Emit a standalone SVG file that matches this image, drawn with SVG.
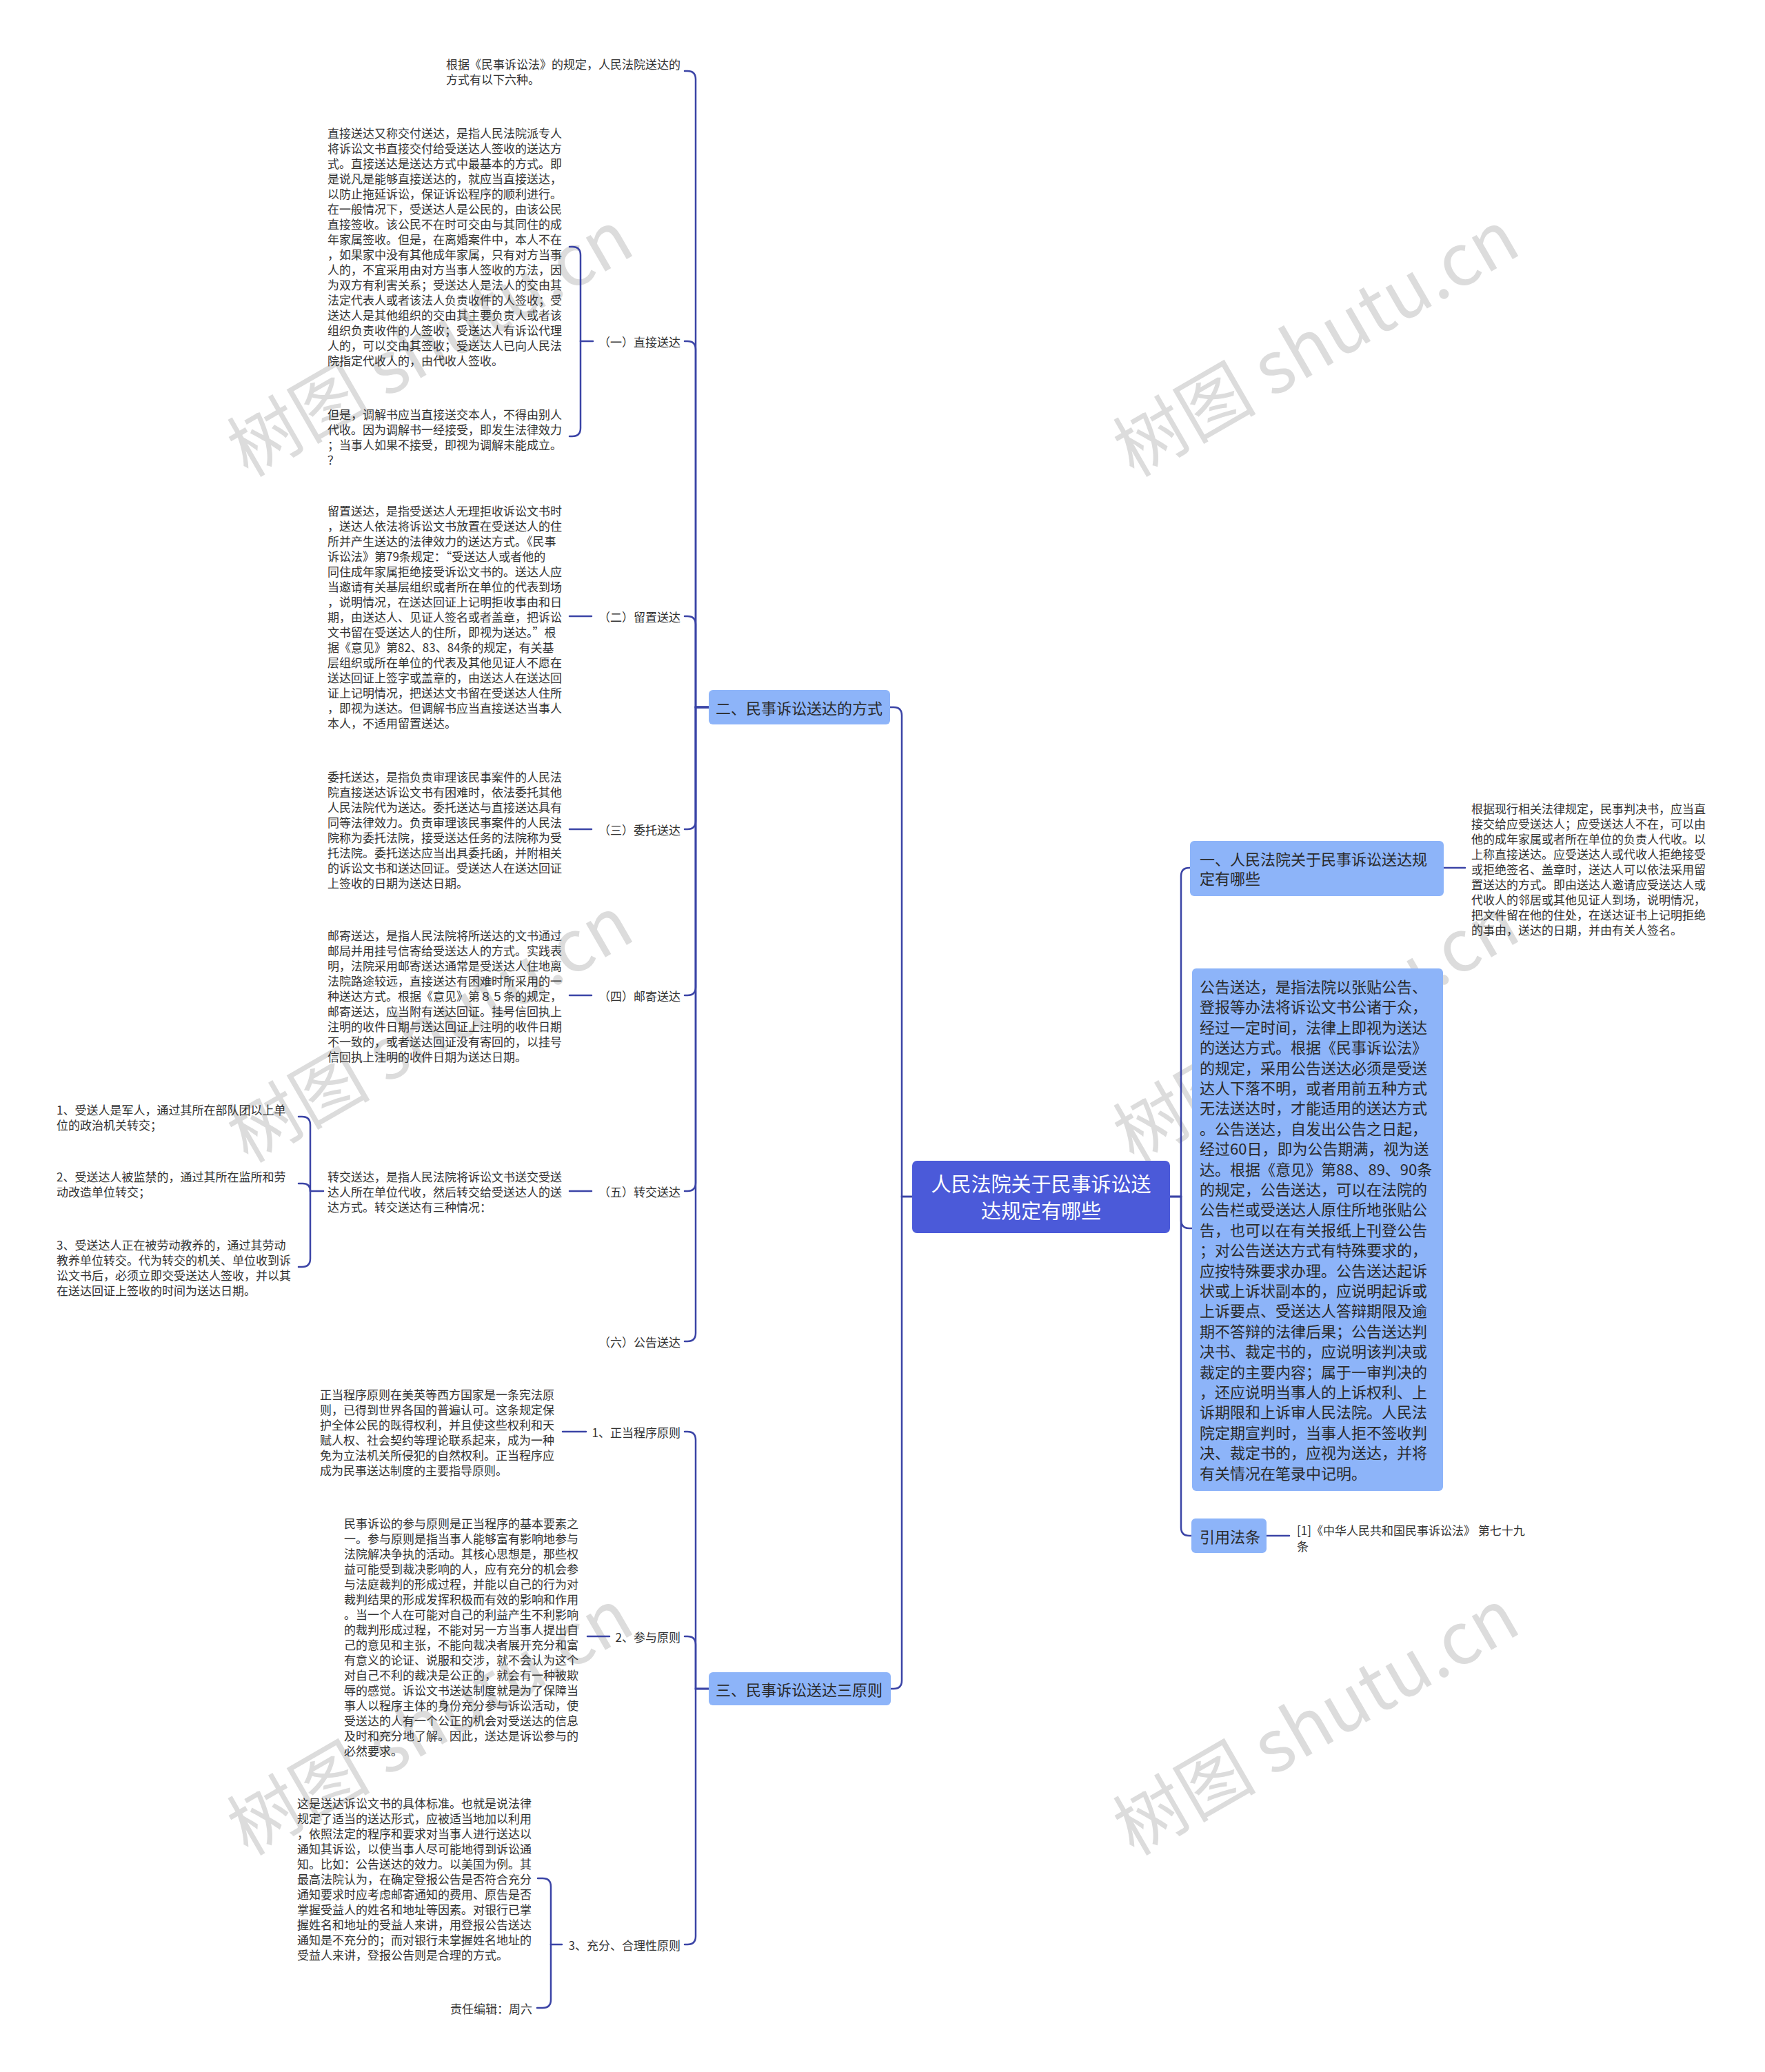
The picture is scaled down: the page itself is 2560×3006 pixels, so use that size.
<svg xmlns="http://www.w3.org/2000/svg" width="2560" height="3006" viewBox="0 0 2560 3006">
<style>
.t{font-family:"Noto Sans CJK SC","Noto Sans",sans-serif;font-size:17px;fill:#333;dominant-baseline:central}
.lb{text-anchor:end}
.c{fill:none;stroke:#3b44a6;stroke-width:2.5;stroke-linecap:round}
.bx{fill:#8db4f9}
.bt{font-size:22px;fill:#2a2a2a}
.root{fill:#4b5ad9}
.rt{font-size:29px;fill:#fff;text-anchor:middle}
.wm{font-family:"Noto Sans CJK SC","Noto Sans",sans-serif;font-size:104px;fill:#dcdcdc}
</style>
<rect width="2560" height="3006" fill="#fff"/>
<g id="watermarks">
<text class="wm" transform="translate(642,530) rotate(-30)" text-anchor="middle">树图 shutu.cn</text>
<text class="wm" transform="translate(1927,530) rotate(-30)" text-anchor="middle">树图 shutu.cn</text>
<text class="wm" transform="translate(642,1525) rotate(-30)" text-anchor="middle">树图 shutu.cn</text>
<text class="wm" transform="translate(1927,1525) rotate(-30)" text-anchor="middle">树图 shutu.cn</text>
<text class="wm" transform="translate(642,2530) rotate(-30)" text-anchor="middle">树图 shutu.cn</text>
<text class="wm" transform="translate(1927,2530) rotate(-30)" text-anchor="middle">树图 shutu.cn</text>
</g>
<g id="connectors">
<path class="c" d="M1323,1736 H1308 V1038 Q1308,1026 1296,1026 H1291"/>
<path class="c" d="M1323,1736 H1308 V2438 Q1308,2450 1296,2450 H1292"/>
<path class="c" d="M1697,1736 H1713 V1271 Q1713,1259 1725,1259 H1726"/>
<path class="c" d="M1697,1736 H1713 V1770 Q1713,1782 1725,1782 H1729"/>
<path class="c" d="M1697,1736 H1713 V2216 Q1713,2228 1725,2228 H1728"/>
<path class="c" d="M2094,1259 H2125"/>
<path class="c" d="M1837,2228 H1870"/>
<path class="c" d="M1028,1026 H1009 V115 Q1009,103 997,103 H993"/>
<path class="c" d="M1028,1026 H1009 V507 Q1009,495 997,495 H993"/>
<path class="c" d="M1028,1026 H1009 V906 Q1009,894 997,894 H993"/>
<path class="c" d="M1028,1026 H1009 V1191 Q1009,1203 997,1203 H993"/>
<path class="c" d="M1028,1026 H1009 V1432 Q1009,1444 997,1444 H993"/>
<path class="c" d="M1028,1026 H1009 V1716 Q1009,1728 997,1728 H993"/>
<path class="c" d="M1028,1026 H1009 V1934 Q1009,1946 997,1946 H993"/>
<path class="c" d="M860,495 H842"/>
<path class="c" d="M842,495 V370 Q842,358 830,358 H826"/>
<path class="c" d="M842,495 V621 Q842,633 830,633 H826"/>
<path class="c" d="M858,894 H826"/>
<path class="c" d="M858,1203 H826"/>
<path class="c" d="M858,1444 H826"/>
<path class="c" d="M858,1728 H826"/>
<path class="c" d="M469,1728 H450"/>
<path class="c" d="M450,1728 V1632 Q450,1620 438,1620 H433"/>
<path class="c" d="M450,1728 Q450,1717 439,1717 H433"/>
<path class="c" d="M450,1728 V1826 Q450,1838 438,1838 H433"/>
<path class="c" d="M1028,2450 H1009 V2089 Q1009,2077 997,2077 H993"/>
<path class="c" d="M1028,2450 H1009 V2386 Q1009,2374 997,2374 H993"/>
<path class="c" d="M1028,2450 H1009 V2809 Q1009,2821 997,2821 H993"/>
<path class="c" d="M850,2077 H816"/>
<path class="c" d="M884,2374 H852"/>
<path class="c" d="M815,2821 H799"/>
<path class="c" d="M799,2821 V2737 Q799,2725 787,2725 H780"/>
<path class="c" d="M799,2821 V2901 Q799,2913 787,2913 H779"/>
</g>
<g id="root">
<rect class="root" x="1323" y="1684" width="374" height="105" rx="7"/>
<text class="t rt"><tspan x="1510" y="1716">人民法院关于民事诉讼送</tspan><tspan x="1510" y="1755">达规定有哪些</tspan></text>
</g>
<g id="n-er">
<rect class="bx" x="1028" y="1001" width="263" height="50" rx="6"/>
<text class="t bt" x="1038" y="1026">二、民事诉讼送达的方式</text>
</g>
<g id="n-san">
<rect class="bx" x="1028" y="2426" width="264" height="48" rx="6"/>
<text class="t bt" x="1038" y="2450">三、民事诉讼送达三原则</text>
</g>
<g id="n-yi">
<rect class="bx" x="1726" y="1220" width="368" height="80" rx="6"/>
<text class="t bt"><tspan x="1740" y="1245">一、人民法院关于民事诉讼送达规</tspan><tspan x="1740" y="1273">定有哪些</tspan></text>
</g>
<g id="n-yi-text">
<text class="t"><tspan x="2134" y="1172">根据现行相关法律规定，民事判决书，应当直</tspan><tspan x="2134" y="1194">接交给应受送达人；应受送达人不在，可以由</tspan><tspan x="2134" y="1216">他的成年家属或者所在单位的负责人代收。以</tspan><tspan x="2134" y="1238">上称直接送达。应受送达人或代收人拒绝接受</tspan><tspan x="2134" y="1260">或拒绝签名、盖章时，送达人可以依法采用留</tspan><tspan x="2134" y="1282">置送达的方式。即由送达人邀请应受送达人或</tspan><tspan x="2134" y="1304">代收人的邻居或其他见证人到场，说明情况，</tspan><tspan x="2134" y="1326">把文件留在他的住处，在送达证书上记明拒绝</tspan><tspan x="2134" y="1348">的事由，送达的日期，并由有关人签名。</tspan></text>
</g>
<g id="n-gonggao">
<rect class="bx" x="1729" y="1405" width="364" height="758" rx="6"/>
<text class="t bt"><tspan x="1740" y="1430">公告送达，是指法院以张贴公告、</tspan><tspan x="1740" y="1459.4">登报等办法将诉讼文书公诸于众，</tspan><tspan x="1740" y="1488.8">经过一定时间，法律上即视为送达</tspan><tspan x="1740" y="1518.2">的送达方式。根据《民事诉讼法》</tspan><tspan x="1740" y="1547.6">的规定，采用公告送达必须是受送</tspan><tspan x="1740" y="1577">达人下落不明，或者用前五种方式</tspan><tspan x="1740" y="1606.4">无法送达时，才能适用的送达方式</tspan><tspan x="1740" y="1635.8">。公告送达，自发出公告之日起，</tspan><tspan x="1740" y="1665.2">经过60日，即为公告期满，视为送</tspan><tspan x="1740" y="1694.6">达。根据《意见》第88、89、90条</tspan><tspan x="1740" y="1724">的规定，公告送达，可以在法院的</tspan><tspan x="1740" y="1753.4">公告栏或受送达人原住所地张贴公</tspan><tspan x="1740" y="1782.8">告，也可以在有关报纸上刊登公告</tspan><tspan x="1740" y="1812.2">；对公告送达方式有特殊要求的，</tspan><tspan x="1740" y="1841.6">应按特殊要求办理。公告送达起诉</tspan><tspan x="1740" y="1871">状或上诉状副本的，应说明起诉或</tspan><tspan x="1740" y="1900.4">上诉要点、受送达人答辩期限及逾</tspan><tspan x="1740" y="1929.8">期不答辩的法律后果；公告送达判</tspan><tspan x="1740" y="1959.2">决书、裁定书的，应说明该判决或</tspan><tspan x="1740" y="1988.6">裁定的主要内容；属于一审判决的</tspan><tspan x="1740" y="2018">，还应说明当事人的上诉权利、上</tspan><tspan x="1740" y="2047.4">诉期限和上诉审人民法院。人民法</tspan><tspan x="1740" y="2076.8">院定期宣判时，当事人拒不签收判</tspan><tspan x="1740" y="2106.2">决、裁定书的，应视为送达，并将</tspan><tspan x="1740" y="2135.6">有关情况在笔录中记明。</tspan></text>
</g>
<g id="n-yinyong">
<rect class="bx" x="1728" y="2203" width="109" height="50" rx="6"/>
<text class="t bt" x="1740" y="2228">引用法条</text>
</g>
<g id="n-yinyong-text">
<text class="t"><tspan x="1881" y="2219">[1]《中华人民共和国民事诉讼法》 第七十九</tspan><tspan x="1881" y="2242">条</tspan></text>
</g>
<g id="n-intro">
<text class="t"><tspan x="647" y="92">根据《民事诉讼法》的规定，人民法院送达的</tspan><tspan x="647" y="114">方式有以下六种。</tspan></text>
</g>
<g id="n-l1"><text class="t lb" x="987" y="495">（一）直接送达</text></g>
<g id="n-l2"><text class="t lb" x="987" y="894">（二）留置送达</text></g>
<g id="n-l3"><text class="t lb" x="987" y="1203">（三）委托送达</text></g>
<g id="n-l4"><text class="t lb" x="987" y="1444">（四）邮寄送达</text></g>
<g id="n-l5"><text class="t lb" x="987" y="1728">（五）转交送达</text></g>
<g id="n-l6"><text class="t lb" x="987" y="1946">（六）公告送达</text></g>
<g id="n-p1"><text class="t lb" x="987" y="2077">1、正当程序原则</text></g>
<g id="n-p2"><text class="t lb" x="987" y="2374">2、参与原则</text></g>
<g id="n-p3"><text class="t lb" x="987" y="2821">3、充分、合理性原则</text></g>
<g id="n-d1a">
<text class="t"><tspan x="475" y="192">直接送达又称交付送达，是指人民法院派专人</tspan><tspan x="475" y="214">将诉讼文书直接交付给受送达人签收的送达方</tspan><tspan x="475" y="236">式。直接送达是送达方式中最基本的方式。即</tspan><tspan x="475" y="258">是说凡是能够直接送达的，就应当直接送达，</tspan><tspan x="475" y="280">以防止拖延诉讼，保证诉讼程序的顺利进行。</tspan><tspan x="475" y="302">在一般情况下，受送达人是公民的，由该公民</tspan><tspan x="475" y="324">直接签收。该公民不在时可交由与其同住的成</tspan><tspan x="475" y="346">年家属签收。但是，在离婚案件中，本人不在</tspan><tspan x="475" y="368">，如果家中没有其他成年家属，只有对方当事</tspan><tspan x="475" y="390">人的，不宜采用由对方当事人签收的方法，因</tspan><tspan x="475" y="412">为双方有利害关系；受送达人是法人的交由其</tspan><tspan x="475" y="434">法定代表人或者该法人负责收件的人签收；受</tspan><tspan x="475" y="456">送达人是其他组织的交由其主要负责人或者该</tspan><tspan x="475" y="478">组织负责收件的人签收；受送达人有诉讼代理</tspan><tspan x="475" y="500">人的，可以交由其签收；受送达人已向人民法</tspan><tspan x="475" y="522">院指定代收人的，由代收人签收。</tspan></text>
</g>
<g id="n-d1b">
<text class="t"><tspan x="475" y="600">但是，调解书应当直接送交本人，不得由别人</tspan><tspan x="475" y="622">代收。因为调解书一经接受，即发生法律效力</tspan><tspan x="475" y="644">；当事人如果不接受，即视为调解未能成立。</tspan><tspan x="475" y="666">？</tspan></text>
</g>
<g id="n-d2">
<text class="t"><tspan x="475" y="740">留置送达，是指受送达人无理拒收诉讼文书时</tspan><tspan x="475" y="762">，送达人依法将诉讼文书放置在受送达人的住</tspan><tspan x="475" y="784">所并产生送达的法律效力的送达方式。《民事</tspan><tspan x="475" y="806">诉讼法》第79条规定：“受送达人或者他的</tspan><tspan x="475" y="828">同住成年家属拒绝接受诉讼文书的。送达人应</tspan><tspan x="475" y="850">当邀请有关基层组织或者所在单位的代表到场</tspan><tspan x="475" y="872">，说明情况，在送达回证上记明拒收事由和日</tspan><tspan x="475" y="894">期，由送达人、见证人签名或者盖章，把诉讼</tspan><tspan x="475" y="916">文书留在受送达人的住所，即视为送达。”根</tspan><tspan x="475" y="938">据《意见》第82、83、84条的规定，有关基</tspan><tspan x="475" y="960">层组织或所在单位的代表及其他见证人不愿在</tspan><tspan x="475" y="982">送达回证上签字或盖章的，由送达人在送达回</tspan><tspan x="475" y="1004">证上记明情况，把送达文书留在受送达人住所</tspan><tspan x="475" y="1026">，即视为送达。但调解书应当直接送达当事人</tspan><tspan x="475" y="1048">本人，不适用留置送达。</tspan></text>
</g>
<g id="n-d3">
<text class="t"><tspan x="475" y="1126">委托送达，是指负责审理该民事案件的人民法</tspan><tspan x="475" y="1148">院直接送达诉讼文书有困难时，依法委托其他</tspan><tspan x="475" y="1170">人民法院代为送达。委托送达与直接送达具有</tspan><tspan x="475" y="1192">同等法律效力。负责审理该民事案件的人民法</tspan><tspan x="475" y="1214">院称为委托法院，接受送达任务的法院称为受</tspan><tspan x="475" y="1236">托法院。委托送达应当出具委托函，并附相关</tspan><tspan x="475" y="1258">的诉讼文书和送达回证。受送达人在送达回证</tspan><tspan x="475" y="1280">上签收的日期为送达日期。</tspan></text>
</g>
<g id="n-d4">
<text class="t"><tspan x="475" y="1356">邮寄送达，是指人民法院将所送达的文书通过</tspan><tspan x="475" y="1378">邮局并用挂号信寄给受送达人的方式。实践表</tspan><tspan x="475" y="1400">明，法院采用邮寄送达通常是受送达人住地离</tspan><tspan x="475" y="1422">法院路途较远，直接送达有困难时所采用的一</tspan><tspan x="475" y="1444">种送达方式。根据《意见》第８５条的规定，</tspan><tspan x="475" y="1466">邮寄送达，应当附有送达回证。挂号信回执上</tspan><tspan x="475" y="1488">注明的收件日期与送达回证上注明的收件日期</tspan><tspan x="475" y="1510">不一致的，或者送达回证没有寄回的，以挂号</tspan><tspan x="475" y="1532">信回执上注明的收件日期为送达日期。</tspan></text>
</g>
<g id="n-d5">
<text class="t"><tspan x="475" y="1706">转交送达，是指人民法院将诉讼文书送交受送</tspan><tspan x="475" y="1728">达人所在单位代收，然后转交给受送达人的送</tspan><tspan x="475" y="1750">达方式。转交送达有三种情况：</tspan></text>
</g>
<g id="n-d5-1">
<text class="t"><tspan x="82" y="1609">1、受送人是军人，通过其所在部队团以上单</tspan><tspan x="82" y="1631">位的政治机关转交；</tspan></text>
</g>
<g id="n-d5-2">
<text class="t"><tspan x="82" y="1706">2、受送达人被监禁的，通过其所在监所和劳</tspan><tspan x="82" y="1728">动改造单位转交；</tspan></text>
</g>
<g id="n-d5-3">
<text class="t"><tspan x="82" y="1805">3、受送达人正在被劳动教养的，通过其劳动</tspan><tspan x="82" y="1827">教养单位转交。代为转交的机关、单位收到诉</tspan><tspan x="82" y="1849">讼文书后，必须立即交受送达人签收，并以其</tspan><tspan x="82" y="1871">在送达回证上签收的时间为送达日期。</tspan></text>
</g>
<g id="n-p1d">
<text class="t"><tspan x="464" y="2022">正当程序原则在美英等西方国家是一条宪法原</tspan><tspan x="464" y="2044">则，已得到世界各国的普遍认可。这条规定保</tspan><tspan x="464" y="2066">护全体公民的既得权利，并且使这些权利和天</tspan><tspan x="464" y="2088">赋人权、社会契约等理论联系起来，成为一种</tspan><tspan x="464" y="2110">免为立法机关所侵犯的自然权利。正当程序应</tspan><tspan x="464" y="2132">成为民事送达制度的主要指导原则。</tspan></text>
</g>
<g id="n-p2d">
<text class="t"><tspan x="499" y="2209">民事诉讼的参与原则是正当程序的基本要素之</tspan><tspan x="499" y="2231">一。参与原则是指当事人能够富有影响地参与</tspan><tspan x="499" y="2253">法院解决争执的活动。其核心思想是，那些权</tspan><tspan x="499" y="2275">益可能受到裁决影响的人，应有充分的机会参</tspan><tspan x="499" y="2297">与法庭裁判的形成过程，并能以自己的行为对</tspan><tspan x="499" y="2319">裁判结果的形成发挥积极而有效的影响和作用</tspan><tspan x="499" y="2341">。当一个人在可能对自己的利益产生不利影响</tspan><tspan x="499" y="2363">的裁判形成过程，不能对另一方当事人提出自</tspan><tspan x="499" y="2385">己的意见和主张，不能向裁决者展开充分和富</tspan><tspan x="499" y="2407">有意义的论证、说服和交涉，就不会认为这个</tspan><tspan x="499" y="2429">对自己不利的裁决是公正的，就会有一种被欺</tspan><tspan x="499" y="2451">辱的感觉。诉讼文书送达制度就是为了保障当</tspan><tspan x="499" y="2473">事人以程序主体的身份充分参与诉讼活动，使</tspan><tspan x="499" y="2495">受送达的人有一个公正的机会对受送达的信息</tspan><tspan x="499" y="2517">及时和充分地了解。因此，送达是诉讼参与的</tspan><tspan x="499" y="2539">必然要求。</tspan></text>
</g>
<g id="n-p3d">
<text class="t"><tspan x="431" y="2615">这是送达诉讼文书的具体标准。也就是说法律</tspan><tspan x="431" y="2637">规定了适当的送达形式，应被适当地加以利用</tspan><tspan x="431" y="2659">，依照法定的程序和要求对当事人进行送达以</tspan><tspan x="431" y="2681">通知其诉讼，以使当事人尽可能地得到诉讼通</tspan><tspan x="431" y="2703">知。比如：公告送达的效力。以美国为例。其</tspan><tspan x="431" y="2725">最高法院认为，在确定登报公告是否符合充分</tspan><tspan x="431" y="2747">通知要求时应考虑邮寄通知的费用、原告是否</tspan><tspan x="431" y="2769">掌握受益人的姓名和地址等因素。对银行已掌</tspan><tspan x="431" y="2791">握姓名和地址的受益人来讲，用登报公告送达</tspan><tspan x="431" y="2813">通知是不充分的；而对银行未掌握姓名地址的</tspan><tspan x="431" y="2835">受益人来讲，登报公告则是合理的方式。</tspan></text>
</g>
<g id="n-editor"><text class="t lb" x="772" y="2913">责任编辑：周六</text></g>
</svg>
